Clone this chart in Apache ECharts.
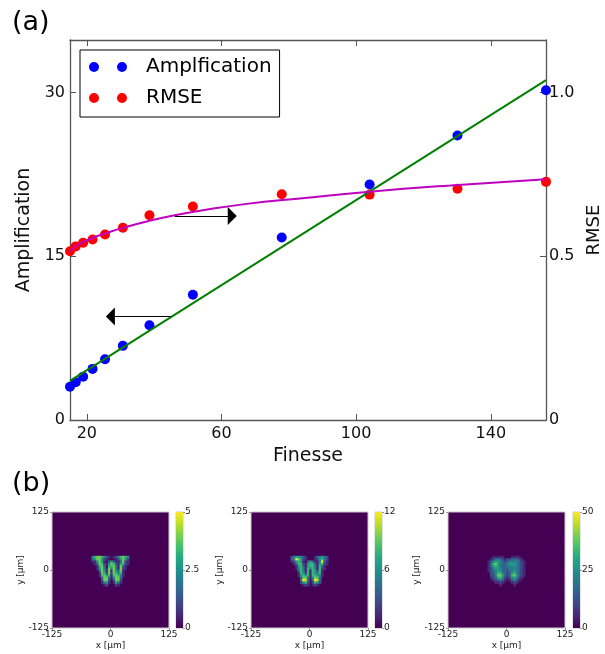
<!DOCTYPE html>
<html><head><meta charset="utf-8">
<script src="https://cdn.jsdelivr.net/npm/echarts@6/dist/echarts.min.js"></script>
<style>html,body{margin:0;padding:0;background:#fff}#c{width:605px;height:654px}</style>
</head><body><div id="c"></div>
<script>
// ---------- panel (a) data ----------
const finesse       = [15.0, 16.7, 18.9, 21.7, 25.4, 30.7, 38.6, 51.5, 77.9, 104.0, 130.1, 156.4];
const amplification = [3.05, 3.46, 3.97, 4.68, 5.57, 6.79, 8.68, 11.47, 16.72, 21.56, 26.05, 30.2];
const rmse          = [0.515, 0.530, 0.541, 0.551, 0.566, 0.587, 0.625, 0.652, 0.689, 0.688, 0.706, 0.727];
const ampFitX  = [15.0, 156.4];
const ampFitY  = [3.58, 31.13];
const rmseFitX = [15, 17, 19.3, 22, 25.3, 31.2, 38.1, 46.1, 55, 66.9, 84.8, 104, 128, 156.4];
const rmseFitY = [0.515, 0.532, 0.545, 0.557, 0.569, 0.588, 0.607, 0.625, 0.641, 0.659, 0.678, 0.697, 0.716, 0.735];
const finesseTicks = [20, 60, 100, 140];
const ampTicks  = [0, 15, 30];
const rmseTicks = [0, 0.5, 1.0];
const arrowLeft  = [[44.9, 9.48], [27.0, 9.48]];     // (finesse, amplification)
const arrowRight = [[46.1, 0.623], [63.2, 0.623]];   // (finesse, RMSE)

// ---------- panel (b) data ----------
const colorbarMax = [5, 12, 50];
const imageTicks = [-125, 0, 125];
// intensity levels (ninths of the colour-bar max), 5 um cells, x from -40 to 40 um, rows from y=30 down to y=-35 um
const wLevels1 = [
 "4677642101246764",
 "3577521000125752",
 "1157510353113721",
 "0137621476315621",
 "0016730667417310",
 "0015741747417210",
 "0003751717537100",
 "0001762727646100",
 "0001675616764100",
 "0000377314773000",
 "0000277202772000",
 "0000145101541000",
 "0000012000210000"
];
const wLevels2 = [
 "2455431000134542",
 "3497521000125642",
 "1256510353114931",
 "0136621566315621",
 "0015631566416310",
 "0014641646416210",
 "0003641616526100",
 "0001652616546100",
 "0001565616654100",
 "0000377314773000",
 "0000398303983000",
 "0000256202652000",
 "0000012101210000"
];
const wLevels3 = [
 "0011111000111100",
 "0123432122333210",
 "1245543234444321",
 "1367543345554321",
 "1356543344454321",
 "1245543334444321",
 "1234553323454321",
 "0234664323564321",
 "0224775323675321",
 "0123564212454210",
 "0012343101343100",
 "0001121000121000",
 "0000010000010000"
];
const wLevels = [wLevels1, wLevels2, wLevels3];

const F = 'DejaVu Sans';
const viridis = ['#440154','#482475','#414487','#355f8d','#2a788e','#21918c','#22a884','#44bf70','#7ad151','#bddf26','#fde725'];
const gridCells = 50, colOffset = 17, rowTop = 30;
const cats = Array.from({length: gridCells}, (_, i) => String(i));

function cells(levels, max) {
  const out = [];
  levels.forEach((row, r) => {
    for (let c = 0; c < row.length; c++) {
      const d = +row[c];
      if (d > 0) out.push([colOffset + c, rowTop - r, d / 9 * max]);
    }
  });
  return out;
}

const imgLeft = [52, 251, 448];
const cbLeft = [176, 375, 573];
const grids = [{left: 70, top: 40, width: 476, height: 380, containLabel: false, outerBoundsMode: 'none'}];
imgLeft.forEach(l => grids.push({left: l, top: 512, width: 117, height: 116, show: true,
  backgroundColor: viridis[0], borderColor: '#c8c8c8', borderWidth: 1, containLabel: false, outerBoundsMode: 'none'}));
cbLeft.forEach(l => grids.push({left: l, top: 512, width: 7, height: 116, show: true,
  backgroundColor: 'transparent', borderColor: '#c8c8c8', borderWidth: 1, containLabel: false, outerBoundsMode: 'none'}));

const axisCol = '#555';
const xAxes = [
  {type: 'value', gridIndex: 0, position: 'bottom', min: 15, max: 156.4,
   axisLine: {show: true, onZero: false, lineStyle: {color: axisCol, width: 1.3}},
   axisTick: {show: true, inside: true, length: 6, customValues: finesseTicks, lineStyle: {color: axisCol}},
   axisLabel: {customValues: finesseTicks, fontSize: 16, fontFamily: F, color: '#111', margin: 6},
   splitLine: {show: false},
   name: 'Finesse', nameLocation: 'middle', nameGap: 25, nameTextStyle: {fontSize: 19, fontFamily: F, color: '#111'}},
  {type: 'value', gridIndex: 0, position: 'top', min: 15, max: 156.4,
   axisLine: {show: true, onZero: false, lineStyle: {color: axisCol, width: 1.3}},
   axisTick: {show: true, inside: true, length: 6, customValues: finesseTicks, lineStyle: {color: axisCol}},
   axisLabel: {show: false}, splitLine: {show: false}}
];
const yAxes = [
  {type: 'value', gridIndex: 0, position: 'left', min: 0, max: 34.8,
   axisLine: {show: true, onZero: false, lineStyle: {color: axisCol, width: 1.3}},
   axisTick: {show: true, inside: true, length: 6, customValues: ampTicks, lineStyle: {color: axisCol}},
   axisLabel: {customValues: ampTicks, fontSize: 16, fontFamily: F, color: '#111', margin: 5},
   splitLine: {show: false},
   name: 'Amplification', nameLocation: 'middle', nameRotate: 90, nameGap: 29,
   nameTextStyle: {fontSize: 19, fontFamily: F, color: '#111'}},
  {type: 'value', gridIndex: 0, position: 'right', min: 0, max: 1.16,
   axisLine: {show: true, onZero: false, lineStyle: {color: axisCol, width: 1.3}},
   axisTick: {show: true, inside: true, length: 6, customValues: rmseTicks, lineStyle: {color: axisCol}},
   axisLabel: {customValues: rmseTicks, fontSize: 16, fontFamily: F, color: '#111', margin: 3,
     formatter: v => (v === 0 ? '0' : v.toFixed(1))},
   splitLine: {show: false},
   name: 'RMSE', nameLocation: 'middle', nameRotate: 90, nameGap: 32,
   nameTextStyle: {fontSize: 18, fontFamily: F, color: '#111'}}
];
// hidden category axes for heatmaps
for (let k = 0; k < 3; k++) {
  xAxes.push({type: 'category', gridIndex: 1 + k, data: cats, show: false, boundaryGap: true, position: 'bottom'});
  yAxes.push({type: 'category', gridIndex: 1 + k, data: cats, show: false, boundaryGap: true, position: 'left'});
}
// visible value axes for images
const small = {fontSize: 9, fontFamily: F, color: '#222'};
for (let k = 0; k < 3; k++) {
  xAxes.push({type: 'value', gridIndex: 1 + k, position: 'bottom', min: imageTicks[0], max: imageTicks[2], interval: 125,
    axisLine: {show: false, onZero: false}, axisTick: {show: true, length: 2, lineStyle: {color: '#999'}},
    axisLabel: Object.assign({margin: 2}, small), splitLine: {show: false},
    name: 'x [μm]', nameLocation: 'middle', nameGap: 13, nameTextStyle: small});
  yAxes.push({type: 'value', gridIndex: 1 + k, position: 'left', min: imageTicks[0], max: imageTicks[2], interval: 125,
    axisLine: {show: false, onZero: false}, axisTick: {show: true, length: 2, lineStyle: {color: '#999'}},
    axisLabel: Object.assign({margin: 3}, small), splitLine: {show: false},
    name: 'y [μm]', nameLocation: 'middle', nameRotate: 90, nameGap: 26, nameTextStyle: small});
}
// colour bars
for (let k = 0; k < 3; k++) {
  xAxes.push({type: 'category', gridIndex: 4 + k, data: ['cb'], show: false, boundaryGap: true});
  yAxes.push({type: 'value', gridIndex: 4 + k, position: 'right', min: 0, max: colorbarMax[k], interval: colorbarMax[k] / 2,
    axisLine: {show: false, onZero: false}, axisTick: {show: true, length: 2, lineStyle: {color: '#999'}},
    axisLabel: Object.assign({margin: 2, formatter: v => String(v)}, small), splitLine: {show: false}});
}

const series = [
  {name: 'Amplfication', type: 'scatter', xAxisIndex: 0, yAxisIndex: 0, symbolSize: 10,
   itemStyle: {color: '#0000ff', opacity: 1}, data: finesse.map((x, i) => [x, amplification[i]]), z: 3},
  {name: 'RMSE', type: 'scatter', xAxisIndex: 0, yAxisIndex: 1, symbolSize: 10,
   itemStyle: {color: '#ff0000', opacity: 1}, data: finesse.map((x, i) => [x, rmse[i]]), z: 3},
  {name: 'ampFit', type: 'line', xAxisIndex: 0, yAxisIndex: 0, showSymbol: false, symbol: 'none',
   lineStyle: {color: '#008000', width: 2}, data: ampFitX.map((x, i) => [x, ampFitY[i]]), z: 4,
   markLine: {silent: true, symbol: ['none', 'triangle'], symbolSize: [18, 9], animation: false,
     label: {show: false}, lineStyle: {color: '#000', width: 1.2, type: 'solid'}, itemStyle: {color: '#000'},
     emphasis: {disabled: true},
     data: [[{coord: arrowLeft[0]}, {coord: arrowLeft[1]}]]}},
  {name: 'rmseFit', type: 'line', xAxisIndex: 0, yAxisIndex: 1, showSymbol: false, symbol: 'none',
   smooth: 0.5,
   lineStyle: {color: '#bf00bf', width: 2}, data: rmseFitX.map((x, i) => [x, rmseFitY[i]]), z: 4,
   markLine: {silent: true, symbol: ['none', 'triangle'], symbolSize: [18, 9], animation: false,
     label: {show: false}, lineStyle: {color: '#000', width: 1.2, type: 'solid'}, itemStyle: {color: '#000'},
     emphasis: {disabled: true},
     data: [[{coord: arrowRight[0]}, {coord: arrowRight[1]}]]}}
];
const visualMaps = [];
for (let k = 0; k < 3; k++) {
  visualMaps.push({type: 'continuous', show: false, seriesIndex: series.length, dimension: 2,
    min: 0, max: colorbarMax[k], inRange: {color: viridis}});
  series.push({type: 'heatmap', xAxisIndex: 2 + k, yAxisIndex: 2 + k, silent: true,
    emphasis: {disabled: true}, data: cells(wLevels[k], colorbarMax[k])});
}
for (let k = 0; k < 3; k++) {
  series.push({type: 'bar', xAxisIndex: 8 + k, yAxisIndex: 8 + k, silent: true, barWidth: '100%',
    data: [colorbarMax[k]],
    itemStyle: {color: new echarts.graphic.LinearGradient(0, 1, 0, 0,
      viridis.map((c, i) => ({offset: i / (viridis.length - 1), color: c})))}});
}

const chart = echarts.init(document.getElementById('c'), null, {renderer: 'canvas'});
chart.setOption({
  animation: false,
  backgroundColor: '#fff',
  title: [
    {text: '(a)', left: 12, top: 9, padding: 0, textStyle: {fontSize: 27, fontWeight: 'normal', fontFamily: F, color: '#000'}},
    {text: '(b)', left: 12, top: 470, padding: 0, textStyle: {fontSize: 27, fontWeight: 'normal', fontFamily: F, color: '#000'}}
  ],
  legend: {
    orient: 'vertical', left: 80, top: 50, selectedMode: false,
    data: ['Amplfication', 'RMSE'],
    icon: 'path://M0,5A5,5,0,1,1,10,5A5,5,0,1,1,0,5ZM28,5A5,5,0,1,1,38,5A5,5,0,1,1,28,5ZM52,4.99L52,5.01Z',
    itemWidth: 52, itemHeight: 10, itemGap: 11,
    borderColor: '#000', borderWidth: 1, backgroundColor: '#fff', borderRadius: 0,
    padding: [7, 8, 9, 9],
    textStyle: {fontSize: 20, fontFamily: F, color: '#000'}
  },
  grid: grids,
  xAxis: xAxes,
  yAxis: yAxes,
  visualMap: visualMaps,
  series: series
});
</script></body></html>
